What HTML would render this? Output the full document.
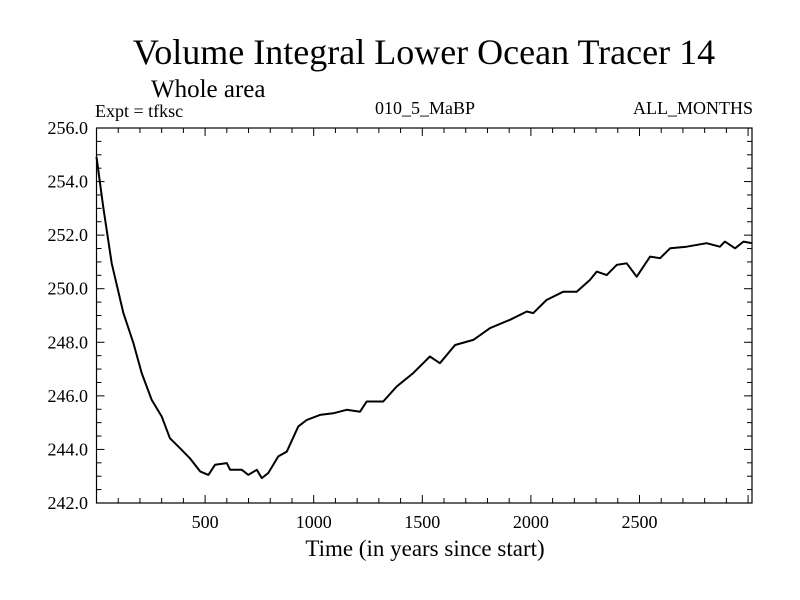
<!DOCTYPE html>
<html><head><meta charset="utf-8"><style>
html,body{margin:0;padding:0;background:#fff;width:800px;height:600px;overflow:hidden}
svg text{font-family:"Liberation Serif",serif;fill:#000}
</style></head><body>
<svg id="chart" width="800" height="600" viewBox="0 0 800 600" xmlns="http://www.w3.org/2000/svg">
<text x="424" y="64" font-size="36" text-anchor="middle">Volume Integral Lower Ocean Tracer 14</text>
<text x="151" y="97" font-size="25">Whole area</text>
<text x="95" y="117" font-size="18">Expt = tfksc</text>
<text x="425" y="114" font-size="18" text-anchor="middle">010_5_MaBP</text>
<text x="753" y="114" font-size="18" text-anchor="end">ALL_MONTHS</text>
<text x="425" y="556" font-size="23" text-anchor="middle">Time (in years since start)</text>
<g id="axes"></g>
<g id="series"></g>
</svg>
<script>
const years = [0,31,70,124,170,208,254,300,338,384,430,477,515,546,600,615,669,699,738,761,791,837,876,929,968,1029,1090,1152,1213,1244,1320,1382,1458,1535,1581,1651,1735,1812,1904,1981,2011,2072,2149,2211,2272,2303,2349,2395,2441,2487,2549,2595,2641,2717,2809,2870,2893,2940,2979,3018];
const values = [254.93,253.06,250.95,249.09,247.97,246.85,245.85,245.23,244.42,244.05,243.67,243.18,243.05,243.43,243.49,243.24,243.24,243.05,243.24,242.93,243.12,243.74,243.92,244.86,245.1,245.29,245.35,245.48,245.41,245.79,245.79,246.35,246.85,247.47,247.22,247.90,248.09,248.53,248.84,249.15,249.09,249.58,249.89,249.89,250.33,250.64,250.51,250.89,250.95,250.45,251.20,251.14,251.51,251.57,251.70,251.57,251.76,251.51,251.76,251.70];
const xTickLabels = [500,1000,1500,2000,2500];
const yTickLabels = [242,244,246,248,250,252,254,256];

const NS='http://www.w3.org/2000/svg';
const L=96.5,R=752,T=128,B=503;
const xMin=0,xMax=3018,yMin=242,yMax=256;
const xs=v=>L+(v-xMin)/(xMax-xMin)*(R-L);
const ys=v=>B-(v-yMin)/(yMax-yMin)*(B-T);
const axes=document.getElementById('axes');
const series=document.getElementById('series');
function mk(tag,attrs,parent){const e=document.createElementNS(NS,tag);for(const k in attrs)e.setAttribute(k,attrs[k]);parent.appendChild(e);return e;}

const frame=mk('rect',{x:L,y:T,width:R-L,height:B-T,fill:'none',stroke:'#000','stroke-width':1.2},axes);



for(let t=100;t<xMax;t+=100){
  const x=xs(t),len=(t%500===0)?8:5;
  const a=mk('line',{x1:x,y1:B,x2:x,y2:B-len,stroke:'#000','stroke-width':1},axes);
  
  
  const b=mk('line',{x1:x,y1:T,x2:x,y2:T+len,stroke:'#000','stroke-width':1},axes);
  
  
}
xTickLabels.forEach(v=>{
  const t=mk('text',{x:xs(v),y:528,'font-size':18,'text-anchor':'middle'},axes);
  t.textContent=v;
  
  
});
for(let v=yMin+0.5;v<yMax;v+=0.5){
  const y=ys(v),len=(Math.abs(v%2)<1e-6)?8:5;
  const a=mk('line',{x1:L,y1:y,x2:L+len,y2:y,stroke:'#000','stroke-width':1},axes);
  
  
  const b=mk('line',{x1:R,y1:y,x2:R-len,y2:y,stroke:'#000','stroke-width':1},axes);
  
  
}
yTickLabels.forEach(v=>{
  const t=mk('text',{x:88,y:ys(v)+6,'font-size':18,'text-anchor':'end'},axes);
  t.textContent=v.toFixed(1);
  
  
});
const d=years.map((t,i)=>(i?'L':'M')+xs(t).toFixed(1)+' '+ys(values[i]).toFixed(1)).join(' ');
const line=mk('path',{d:d,fill:'none',stroke:'#000','stroke-width':2,'stroke-linejoin':'round'},series);


</script>
</body></html>
